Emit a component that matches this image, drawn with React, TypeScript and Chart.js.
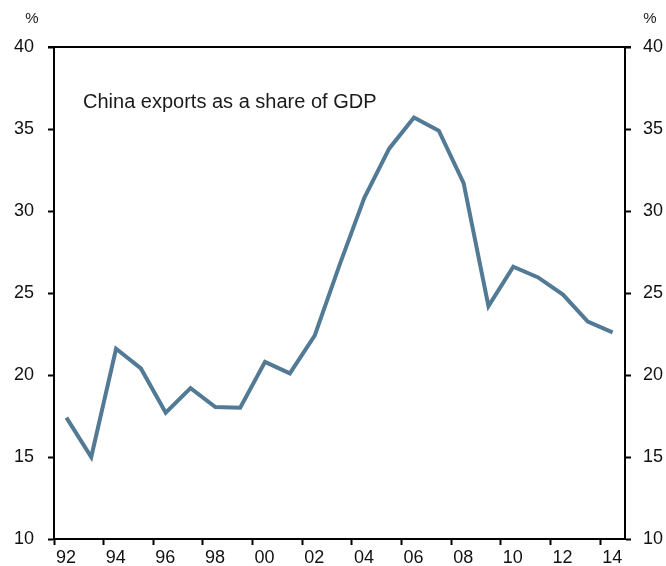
import React, { useEffect, useRef } from "react";
import { Chart, registerables } from "chart.js";

Chart.register(...registerables);

const years = [1992, 1993, 1994, 1995, 1996, 1997, 1998, 1999, 2000, 2001, 2002, 2003, 2004, 2005, 2006, 2007, 2008, 2009, 2010, 2011, 2012, 2013, 2014];
const exportsShare = [17.4, 15.0, 21.6, 20.4, 17.7, 19.2, 18.05, 18.0, 20.8, 20.1, 22.4, 26.7, 30.8, 33.8, 35.7, 34.9, 31.7, 24.2, 26.6, 25.95, 24.9, 23.25, 22.6];
const yTicks = [10, 15, 20, 25, 30, 35, 40];
const xTickYears = [1992, 1994, 1996, 1998, 2000, 2002, 2004, 2006, 2008, 2010, 2012, 2014];
const titleText = "China exports as a share of GDP";
const unitText = "%";

const FONT = "'Liberation Sans', Arial, Helvetica, sans-serif";

export default function App() {
  const ref = useRef<HTMLCanvasElement | null>(null);

  useEffect(() => {
    if (!ref.current) return;
    const overlay = {
      id: "overlay",
      afterDraw(chart: any) {
        const { ctx, chartArea } = chart;
        ctx.save();
        // top border
        ctx.strokeStyle = "#000";
        ctx.lineWidth = 2;
        ctx.beginPath();
        ctx.moveTo(chartArea.left - 6, chartArea.top);
        ctx.lineTo(chartArea.right + 6, chartArea.top);
        ctx.stroke();
        // title
        ctx.fillStyle = "#1a1a1a";
        ctx.font = `20px ${FONT}`;
        ctx.textAlign = "left";
        ctx.textBaseline = "middle";
        ctx.fillText(titleText, chartArea.left + 29, 102);
        // unit labels
        ctx.font = `15px ${FONT}`;
        ctx.textAlign = "center";
        ctx.fillText(unitText, 32, 19);
        ctx.fillText(unitText, 650, 19);
        ctx.restore();
      },
    };

    const tickFont = { family: FONT, size: 18 };
    const chart = new Chart(ref.current, {
      type: "line",
      data: {
        datasets: [
          {
            data: years.map((y, i) => ({ x: y + 0.5, y: exportsShare[i] })),
            borderColor: "#527a94",
            borderWidth: 4,
            pointRadius: 0,
            tension: 0,
            fill: false,
            yAxisID: "y",
            xAxisID: "x",
          },
        ],
      },
      options: {
        responsive: false,
        animation: false,
        layout: { padding: { top: 47, left: 0, right: 0, bottom: 0 } },
        plugins: { legend: { display: false }, tooltip: { enabled: false }, title: { display: false } },
        scales: {
          x: {
            type: "linear",
            position: "bottom",
            min: 1992,
            max: 2015,
            afterFit: (s: any) => { s.height = 27; },
            afterBuildTicks: (s: any) => { s.ticks = xTickYears.map((v) => ({ value: v })); },
            ticks: {
              includeBounds: false,
              autoSkip: false,
              maxRotation: 0,
              labelOffset: 12,
              padding: 2,
              color: "#111",
              font: tickFont,
              callback: (v: any) => String(Number(v) % 100).padStart(2, "0"),
            },
            grid: { drawOnChartArea: false, drawTicks: true, tickLength: 6, tickWidth: 2, tickColor: "#000" },
            border: { display: true, color: "#000", width: 2 },
          },
          y: {
            type: "linear",
            position: "left",
            min: 10,
            max: 40,
            afterFit: (s: any) => { s.width = 54; },
            afterBuildTicks: (s: any) => { s.ticks = yTicks.map((v) => ({ value: v })); },
            ticks: { padding: 14, color: "#111", font: tickFont },
            grid: { drawOnChartArea: false, drawTicks: true, tickLength: 6, tickWidth: 2, tickColor: "#000" },
            border: { display: true, color: "#000", width: 2 },
          },
          y2: {
            type: "linear",
            position: "right",
            min: 10,
            max: 40,
            afterFit: (s: any) => { s.width = 41; },
            afterBuildTicks: (s: any) => { s.ticks = yTicks.map((v) => ({ value: v })); },
            ticks: { padding: 12, color: "#111", font: tickFont },
            grid: { drawOnChartArea: false, drawTicks: true, tickLength: 6, tickWidth: 2, tickColor: "#000" },
            border: { display: true, color: "#000", width: 2 },
          },
        },
      },
      plugins: [overlay],
    } as any);
    return () => chart.destroy();
  }, []);

  return (
    <div style={{ position: "absolute", left: 0, top: 0, width: 666, height: 566, background: "#fff" }}>
      <canvas ref={ref} width={666} height={566} style={{ display: "block" }} />
    </div>
  );
}
